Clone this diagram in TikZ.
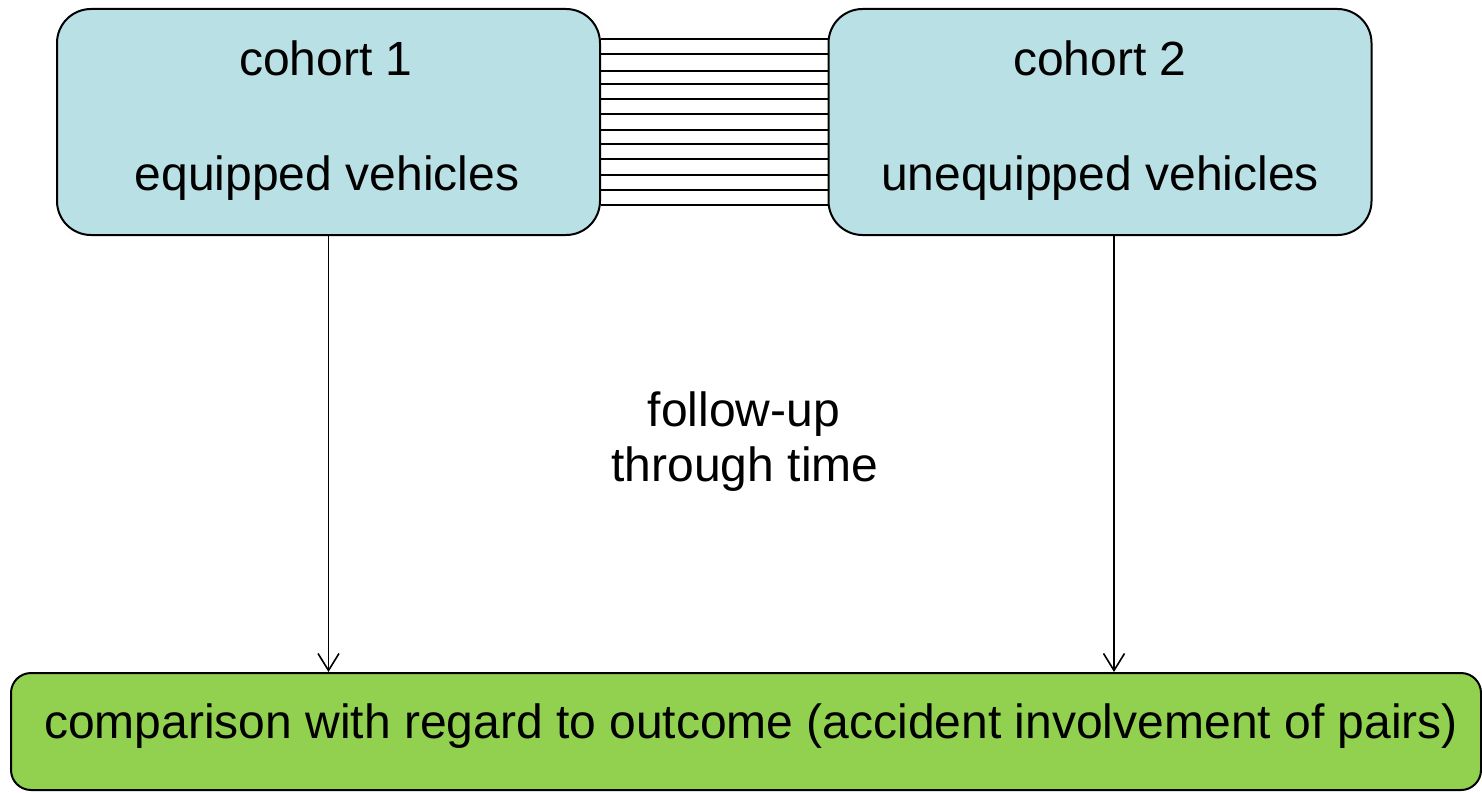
\documentclass[tikz,border=0pt]{standalone}
\usepackage{fontspec}
\setmainfont{Liberation Sans}
\usetikzlibrary{arrows.meta}
\definecolor{cohortfill}{RGB}{185,224,228}
\definecolor{cmpfill}{RGB}{146,208,80}
\tikzset{
  cbox/.style={draw=black, line width=2pt, fill=cohortfill, rounded corners=34pt,
    minimum width=543pt, minimum height=226pt, inner sep=0pt},
  gbox/.style={draw=black, line width=2pt, fill=cmpfill, rounded corners=20pt,
    minimum width=1470pt, minimum height=117pt, inner sep=0pt},
  txt/.style={font=\fontsize{48}{54}\selectfont, anchor=base, inner sep=0pt},
  arr/.style={line width=1.6pt, -{Straight Barb[length=17pt,width=21pt,line width=1.6pt]}},
  hatch/.style={line width=1.6pt}
}
\begin{document}
\begin{tikzpicture}[x=1pt,y=-1pt]
\useasboundingbox (0,0) rectangle (1482,792);
% hatch between cohorts
\coordinate (hl) at (601,0);
\coordinate (hr) at (828,0);
\foreach \yy in {39,54,71,84,99,114,130,144,159,175,190,205}{
  \draw[hatch] (hl |- 0,\yy) -- (hr |- 0,\yy);
}
\node[cbox] (c1) at (328.5,122) {};
\node[cbox] (c2) at (1100,122) {};
\node[gbox] (cmp) at (746,731.5) {};
\node[txt] (c1a) at (326,75) {cohort 1};
\node[txt] (c1b) at (327,190) {equipped vehicles};
\node[txt] (c2a) at (1100,75) {cohort 2};
\node[txt] (c2b) at (1100,190) {unequipped vehicles};
\node[txt] (fu1) at (744,426) {follow-up};
\node[txt] (fu2) at (745,481) {through time};
\node[txt] (cmpt) at (751,738) {comparison with regard to outcome (accident involvement of pairs)};
\coordinate (a2) at (1114,0);
\draw[arr] (c1.south) -- (c1.south |- cmp.north);
\draw[arr] (a2 |- c2.south) -- (a2 |- cmp.north);
\end{tikzpicture}
\end{document}
